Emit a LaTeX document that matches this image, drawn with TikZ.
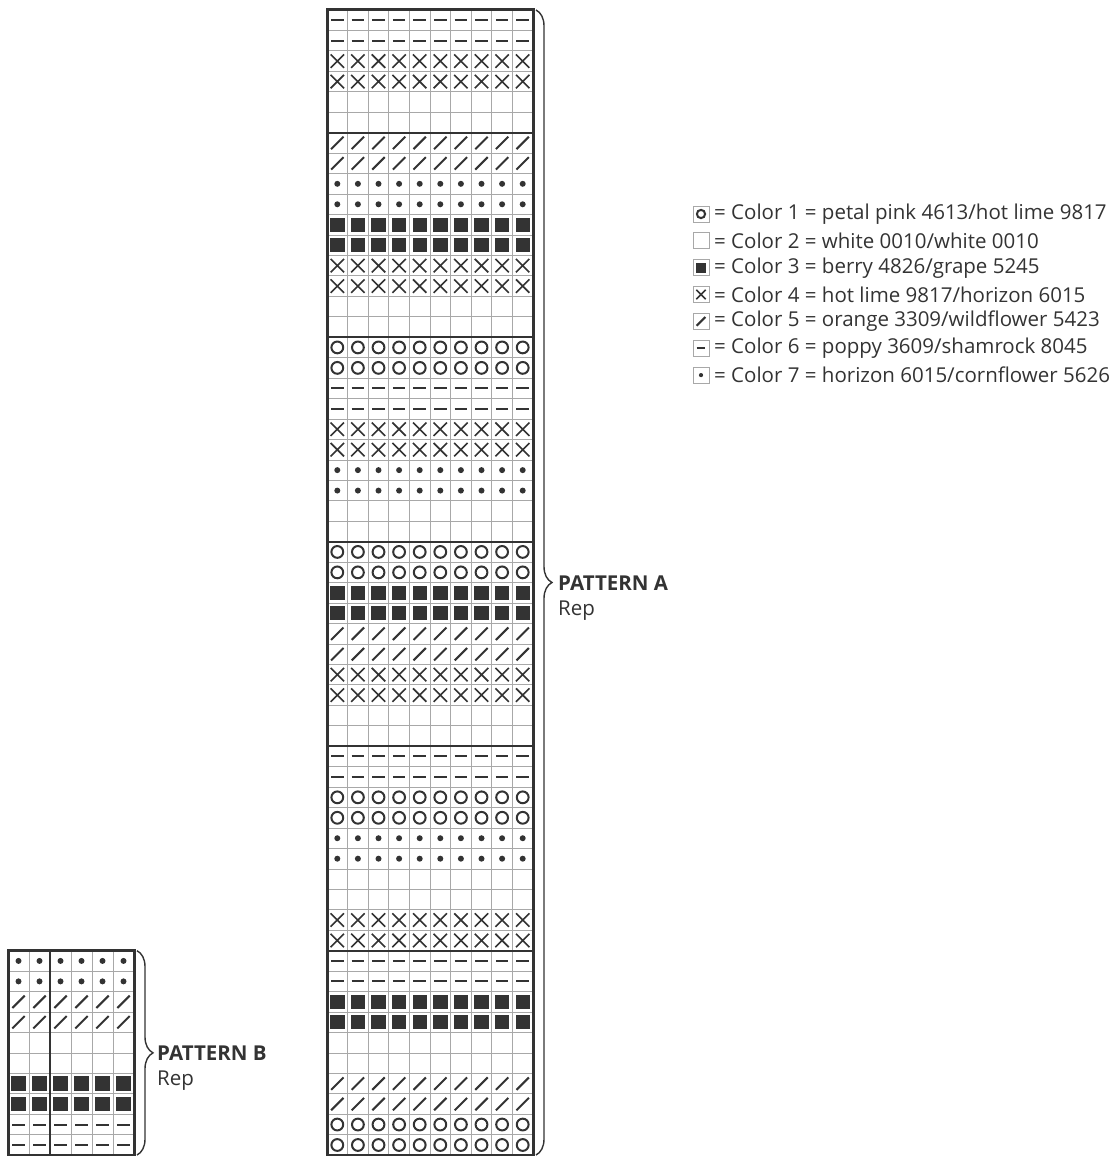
\documentclass[tikz,border=0pt]{standalone}
\usepackage{fontspec}
\setmainfont{Open Sans}
\usetikzlibrary{decorations.pathreplacing}
\definecolor{ink}{HTML}{333333}
\definecolor{gridgray}{HTML}{A8A8A8}

% cell symbols: #1 = x centre, #2 = y centre
\newcommand{\cellW}[2]{}
\newcommand{\cellD}[2]{\draw[symline] (#1-6.3,#2) -- (#1+6.3,#2);}
\newcommand{\cellX}[2]{\draw[symthin] (#1-6.7,#2-6.7) -- (#1+6.7,#2+6.7)
  (#1-6.7,#2+6.7) -- (#1+6.7,#2-6.7);}
\newcommand{\cellS}[2]{\draw[symline] (#1-6.2,#2+6.2) -- (#1+6.2,#2-6.2);}
\newcommand{\cellP}[2]{\fill[ink] (#1,#2) circle (3);}
\newcommand{\cellF}[2]{\fill[ink] (#1-7.2,#2-7.2) rectangle (#1+7.2,#2+7.2);}
\newcommand{\cellO}[2]{\draw[symline] (#1,#2) circle (5.9);}

\begin{document}
\begin{tikzpicture}[
  x=1pt, y=-1pt,
  symline/.style={ink, line width=2pt},
  symthin/.style={ink, line width=1.6pt},
  gridline/.style={gridgray, line width=0.8pt},
  section/.style={ink, line width=2.4pt},
  frame/.style={ink, line width=3pt},
  repbrace/.style={ink, line width=1.4pt, decorate,
                   decoration={brace, amplitude=16pt}},
  title/.style={anchor=west, font=\fontsize{20.5}{23}\selectfont\bfseries, text=ink, inner sep=0pt},
  note/.style={anchor=west, font=\fontsize{20.5}{23}\selectfont, text=ink, inner sep=0pt},
  key/.style={anchor=west, font=\fontsize{20.5}{23}\selectfont, text=ink, inner sep=0pt},
]
\useasboundingbox (0,0) rectangle (1115,1156);

% Pattern A: 10 sts x 56 rows
\foreach \c in {1,...,9}
  \draw[gridline] ({327+20.6*\c},10) -- ({327+20.6*\c},1155.2);
\foreach \r in {1,...,55}
  \draw[gridline] (327,{10+20.45*\r}) -- (533,{10+20.45*\r});
\foreach \sym [count=\r] in {D,D,X,X,W,W,
    S,S,P,P,F,F,X,X,W,W,
    O,O,D,D,X,X,P,P,W,W,
    O,O,F,F,S,S,X,X,W,W,
    D,D,O,O,P,P,W,W,X,X,
    D,D,F,F,W,W,S,S,O,O}
  \foreach \c in {0,...,9}{
    \pgfmathsetmacro\cx{327+20.6*(\c+0.5)}
    \pgfmathsetmacro\cy{10+20.45*(\r-0.5)}
    \csname cell\sym\endcsname{\cx}{\cy}
  }
\foreach \r in {6,16,26,36,46}
  \draw[section] (327,{10+20.45*\r}) -- (533,{10+20.45*\r});
\draw[frame] (327,10) rectangle (533,1155.2);

% Pattern B: 6 sts x 10 rows
\foreach \c in {1,...,5}
  \draw[gridline] ({8+21*\c},950.7) -- ({8+21*\c},1155.2);
\foreach \r in {1,...,9}
  \draw[gridline] (8,{950.7+20.45*\r}) -- (134,{950.7+20.45*\r});
\foreach \sym [count=\r] in {P,P,S,S,W,W,F,F,D,D}
  \foreach \c in {0,...,5}{
    \pgfmathsetmacro\cx{8+21*(\c+0.5)}
    \pgfmathsetmacro\cy{950.7+20.45*(\r-0.5)}
    \csname cell\sym\endcsname{\cx}{\cy}
  }
\draw[section] (50,950.7) -- (50,1155.2);
\draw[frame] (8,950.7) rectangle (134,1155.2);

% braces and labels
\draw[repbrace] (536,10) -- (536,1155);
\node[title] (patA) at (558,583) {PATTERN A};
\node[note]  (repA) at (558,611) {Rep};
\draw[repbrace] (137,950.7) -- (137,1155);
\node[title] (patB) at (157,1053) {PATTERN B};
\node[note]  (repB) at (157,1081) {Rep};

% key
\foreach \sym [count=\k] in {O,W,F,X,S,D,P}{
  \pgfmathsetmacro\ky{214+26.85*(\k-1)}
  \draw[gridgray, line width=0.8pt, fill=white] (693,\ky-8) rectangle (709,\ky+8);
  \begin{scope}[shift={(701,\ky)}, scale=0.7]
    \csname cell\sym\endcsname{0}{0}
  \end{scope}
}
\node[key] (key1) at (714,214)    {= Color 1 = petal pink 4613/hot lime 9817};
\node[key] (key2) at (714,240.85) {= Color 2 = white 0010/white 0010};
\node[key] (key3) at (714,267.7)  {= Color 3 = berry 4826/grape 5245};
\node[key] (key4) at (714,294.55) {= Color 4 = hot lime 9817/horizon 6015};
\node[key] (key5) at (714,321.4)  {= Color 5 = orange 3309/wildflower 5423};
\node[key] (key6) at (714,348.25) {= Color 6 = poppy 3609/shamrock 8045};
\node[key] (key7) at (714,375.1)  {= Color 7 = horizon 6015/cornflower 5626};
\end{tikzpicture}
\end{document}
